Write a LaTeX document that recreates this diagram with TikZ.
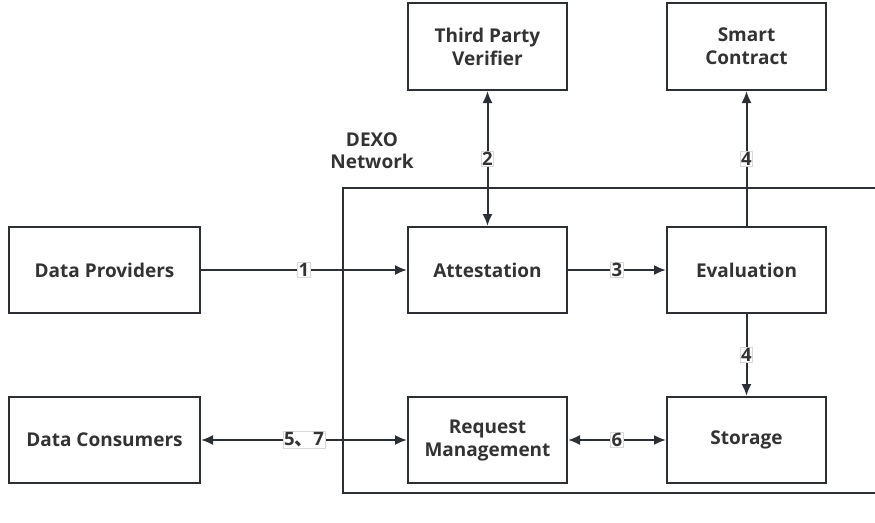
\documentclass[tikz,border=0pt]{standalone}
\usepackage{fontspec}
\setmainfont{Open Sans}
\newfontfamily\cjk{Noto Sans CJK SC}
\usetikzlibrary{arrows.meta}
\definecolor{inkline}{HTML}{2B2F36}
\definecolor{inktext}{HTML}{333333}
\tikzset{
  blockbox/.style={draw=inkline, line width=2pt, fill=white, align=center,
    text=inktext, font=\fontsize{19}{23}\selectfont\bfseries, inner sep=2pt},
  tipshape/.style={Latex[length=12pt,width=10pt]},
  flow/.style={draw=inkline, line width=2pt, -{Latex[length=12pt,width=10pt]}},
  bothflow/.style={draw=inkline, line width=2pt, {Latex[length=12pt,width=10pt]}-{Latex[length=12pt,width=10pt]}},
  steplabel/.style={fill=white, draw=black!15, line width=0.6pt, inner sep=1pt,
    text=inktext, font=\fontsize{18.5}{20}\selectfont\bfseries},
}
\begin{document}
\begin{tikzpicture}[x=1pt, y=-1pt]
  \useasboundingbox (0,0) rectangle (875,522);

  % network frame, open to the right
  \draw[inkline, line width=2pt] (876,188) -- (343,188) -- (343,493) -- (876,493);
  \node[text=inktext, font=\fontsize{19}{22}\selectfont\bfseries, align=center]
    (net) at (372,151) {DEXO\\Network};

  % outside parties
  \node[blockbox, minimum width=159pt, minimum height=87pt] (tpv) at (487.5,46.5) {Third Party\\Verifier};
  \node[blockbox, minimum width=159pt, minimum height=87pt] (sc)  at (746.5,46.5) {Smart\\Contract};
  \node[blockbox, minimum width=191pt, minimum height=86pt] (dp)  at (104.5,270) {Data Providers};
  \node[blockbox, minimum width=191pt, minimum height=86pt] (dc)  at (104.5,440) {Data Consumers};

  % network components
  \node[blockbox, minimum width=159pt, minimum height=86pt] (att) at (487.5,270) {Attestation};
  \node[blockbox, minimum width=159pt, minimum height=86pt] (eva) at (746.5,270) {Evaluation};
  \node[blockbox, minimum width=159pt, minimum height=86pt] (req) at (487.5,440) {Request\\Management};
  \node[blockbox, minimum width=159pt, minimum height=86pt] (sto) at (746.5,440) {Storage};

  % connectors
  \draw[flow] (dp) -- node[steplabel] {1} (att);
  \draw[bothflow] (tpv) -- node[steplabel] {2} (att);
  \draw[flow] (att) -- node[steplabel] {3} (eva);
  \draw[flow] (eva) -- node[steplabel] {4} (sc);
  \draw[flow] (eva) -- node[steplabel] {4} (sto);
  \draw[bothflow] (dc) -- node[steplabel] {5{\cjk\bfseries 、}7} (req);
  \draw[bothflow] (req) -- node[steplabel] {6} (sto);
\end{tikzpicture}
\end{document}
